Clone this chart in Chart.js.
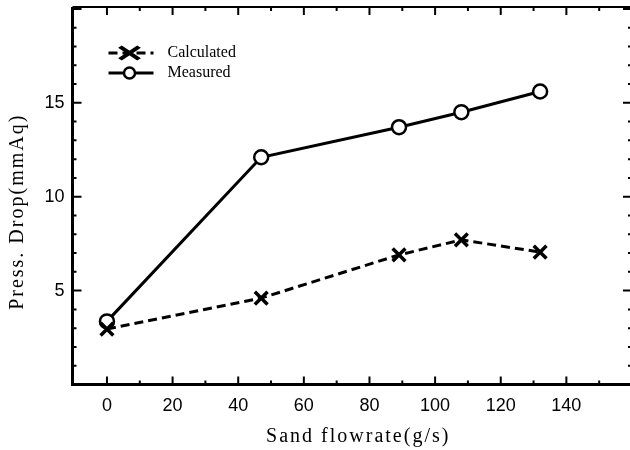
<!DOCTYPE html>
<html>
<head>
<meta charset="utf-8">
<script src="https://cdn.jsdelivr.net/npm/chart.js@4.4.0/dist/chart.umd.min.js"></script>
<style>
  html, body { margin: 0; padding: 0; background: #fff; overflow: hidden; }
  canvas { display: block; }
</style>
</head>
<body>
<canvas id="dropChart" width="634" height="450"></canvas>
<script>
const flowrate = [0, 47, 89, 108, 132];
const calculated = [2.95, 4.6, 6.9, 7.7, 7.05];
const measured = [3.36, 12.1, 13.7, 14.5, 15.6];
const seriesNames = ["Calculated", "Measured"];
const xTicks = [0, 20, 40, 60, 80, 100, 120, 140];
const yTicks = [5, 10, 15];
const xTitle = "Sand flowrate(g/s)";
const yTitle = "Press. Drop(mmAq)";

function toPoints(ys) {
  return flowrate.map((x, i) => ({ x: x, y: ys[i] }));
}

// box round the plot with short ticks pointing inwards on every side
const frame = {
  id: "frame",
  beforeDatasetsDraw(chart) {
    const { ctx, chartArea: a } = chart;
    const x = chart.scales.x;
    const y = chart.scales.y;
    ctx.save();
    ctx.strokeStyle = "#000";
    ctx.lineWidth = 3;
    ctx.beginPath();
    ctx.moveTo(a.left, a.top);
    ctx.lineTo(a.left, a.bottom);
    ctx.lineTo(a.right, a.bottom);
    ctx.stroke();
    ctx.lineWidth = 2;
    ctx.beginPath();
    ctx.moveTo(a.left, a.top);
    ctx.lineTo(a.right, a.top);
    ctx.lineTo(a.right, a.bottom);
    ctx.stroke();

    ctx.lineWidth = 2;
    ctx.beginPath();
    for (let v = 0; v <= 160; v += 10) {
      const px = x.getPixelForValue(v);
      const len = v % 20 === 0 ? 8 : 4;
      ctx.moveTo(px, a.bottom);
      ctx.lineTo(px, a.bottom - len);
      ctx.moveTo(px, a.top);
      ctx.lineTo(px, a.top + len);
    }
    for (let v = 1; v <= 20; v++) {
      const py = y.getPixelForValue(v);
      const len = v % 5 === 0 ? 9 : 4;
      ctx.moveTo(a.left, py);
      ctx.lineTo(a.left + len, py);
      ctx.moveTo(a.right, py);
      ctx.lineTo(a.right - len, py);
    }
    ctx.stroke();
    ctx.restore();
  }
};

// legend inside the plot: line sample with its marker, then the name
const legendBox = {
  id: "legendBox",
  afterDatasetsDraw(chart) {
    const { ctx, chartArea: a } = chart;
    chart.data.datasets.forEach((ds, i) => {
      const ly = a.top + 46 + i * 20;
      const x0 = a.left + 36;
      const x1 = a.left + 81;
      const xm = a.left + 57;
      ctx.save();
      ctx.strokeStyle = "#000";
      ctx.lineWidth = 3;
      ctx.setLineDash(ds.borderDash || []);
      ctx.beginPath();
      ctx.moveTo(x0, ly);
      ctx.lineTo(x1, ly);
      ctx.stroke();
      ctx.setLineDash([]);

      ctx.translate(xm, ly);
      if (ds.pointStyle === "crossRot") ctx.scale(1.5, 1);
      ctx.fillStyle = ds.pointBackgroundColor;
      ctx.lineWidth = ds.pointBorderWidth;
      Chart.helpers.drawPoint(ctx, {
        pointStyle: ds.pointStyle,
        radius: ds.pointStyle === "crossRot" ? 9 : 5.5,
        borderWidth: ds.pointBorderWidth,
        rotation: 0
      }, 0, 0);
      ctx.restore();

      ctx.save();
      ctx.fillStyle = "#000";
      ctx.font = "16px 'Liberation Serif'";
      ctx.textAlign = "left";
      ctx.textBaseline = "middle";
      ctx.fillText(ds.label, a.left + 95, ly);
      ctx.restore();
    });
  }
};

// axis titles, set a little spaced out
const axisTitles = {
  id: "axisTitles",
  afterDraw(chart) {
    const { ctx, chartArea: a } = chart;
    ctx.save();
    ctx.fillStyle = "#000";
    ctx.font = "20px 'Liberation Serif'";
    ctx.letterSpacing = "2px";
    ctx.textAlign = "center";
    ctx.textBaseline = "middle";
    ctx.fillText(xTitle, (a.left + a.right) / 2 + 6, 437);
    ctx.translate(18, (a.top + a.bottom) / 2 + 16);
    ctx.rotate(-Math.PI / 2);
    ctx.fillText(yTitle, 0, 0);
    ctx.restore();
  }
};

const tickFont = { family: "'Liberation Sans', Arial, sans-serif", size: 18 };

new Chart(document.getElementById("dropChart"), {
  type: "line",
  data: {
    datasets: [
      {
        label: seriesNames[0],
        data: toPoints(calculated),
        borderColor: "#000",
        borderWidth: 3,
        borderDash: [9, 5],
        pointStyle: "crossRot",
        pointRadius: 9,
        pointBorderWidth: 3.5,
        pointBorderColor: "#000",
        pointBackgroundColor: "#000",
        tension: 0,
        fill: false
      },
      {
        label: seriesNames[1],
        data: toPoints(measured),
        borderColor: "#000",
        borderWidth: 3,
        pointStyle: "circle",
        pointRadius: 7,
        pointBorderWidth: 2.5,
        pointBorderColor: "#000",
        pointBackgroundColor: "#fff",
        tension: 0,
        fill: false
      }
    ]
  },
  options: {
    responsive: false,
    animation: false,
    devicePixelRatio: 1,
    layout: { autoPadding: false, padding: { top: 7, right: 2, left: 0, bottom: 0 } },
    plugins: {
      legend: { display: false },
      tooltip: { enabled: false }
    },
    scales: {
      x: {
        type: "linear",
        min: -10.5,
        max: 160,
        grid: { display: false, drawTicks: false },
        border: { display: false },
        afterBuildTicks: (s) => { s.ticks = xTicks.map((v) => ({ value: v })); },
        afterFit: (s) => { s.height = 65.5; },
        ticks: { font: tickFont, color: "#000", padding: 11, maxRotation: 0, autoSkip: false }
      },
      y: {
        type: "linear",
        min: 0,
        max: 20.1,
        grid: { display: false, drawTicks: false },
        border: { display: false },
        afterBuildTicks: (s) => { s.ticks = yTicks.map((v) => ({ value: v })); },
        afterFit: (s) => {
          s.width = 72.5;
          // labels sit well inside the range, no room needed above or below
          s.paddingTop = 0;
          s.paddingBottom = 0;
        },
        ticks: { font: tickFont, color: "#000", padding: 8, autoSkip: false }
      }
    }
  },
  plugins: [frame, legendBox, axisTitles]
});
</script>
</body>
</html>
